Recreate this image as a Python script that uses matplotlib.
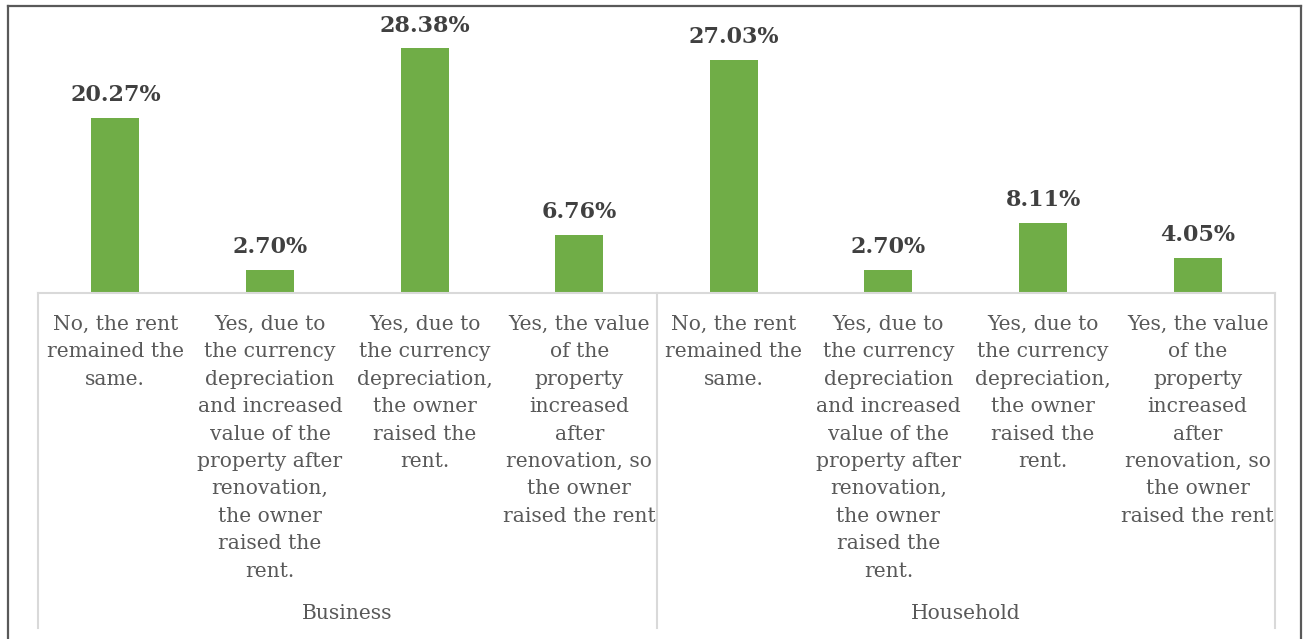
import matplotlib.pyplot as plt
from matplotlib.lines import Line2D

# Data
groups = ['Business', 'Household']
answers = [
    'No, the rent\nremained the\nsame.',
    'Yes, due to\nthe currency\ndepreciation\nand increased\nvalue of the\nproperty after\nrenovation,\nthe owner\nraised the\nrent.',
    'Yes, due to\nthe currency\ndepreciation,\nthe owner\nraised the\nrent.',
    'Yes, the value\nof the\nproperty\nincreased\nafter\nrenovation, so\nthe owner\nraised the rent',
]
business_pct = [20.27, 2.70, 28.38, 6.76]
household_pct = [27.03, 2.70, 8.11, 4.05]

values = business_pct + household_pct
labels = answers + answers

W, H = 1306, 639
fig = plt.figure(figsize=(W / 100, H / 100), dpi=100)

# axes in pixel coordinates
x0, x1 = 38, 1275
ybase, ytop = 293, 5
ax = fig.add_axes([x0 / W, 1 - ybase / H, (x1 - x0) / W, (ybase - ytop) / H])
ax_h = ybase - ytop

xs = list(range(len(values)))
ax.bar(xs, values, width=0.31, color='#70AD47')
ax.set_xlim(-0.5, len(values) - 0.5)
ax.set_ylim(0, ax_h / 8.62)
ax.axis('off')

for x, v in zip(xs, values):
    ax.annotate(f'{v:.2f}%', (x, v), xytext=(0, 8.5), textcoords='offset points',
                ha='center', va='bottom', fontsize=16, fontweight='bold',
                family='DejaVu Serif', color='#404040')

# category labels
tr = ax.get_xaxis_transform()
for x, lab in zip(xs, labels):
    ax.text(x, -(315 - ybase) / ax_h, lab, transform=tr, ha='center', va='top',
            fontsize=14.6, family='DejaVu Serif', color='#595959', linespacing=1.56)

n = len(answers)
for g, name in enumerate(groups):
    ax.text(g * n + (n - 1) / 2, -(604 - ybase) / ax_h, name, transform=tr,
            ha='center', va='top', fontsize=14.6, family='DejaVu Serif', color='#595959')

# category axis lines
ybot = -(628 - ybase) / ax_h
sep_style = dict(color='#D9D9D9', linewidth=1.5, transform=tr, clip_on=False)
ax.add_line(Line2D([-0.5, len(values) - 0.5], [0, 0], **sep_style))
for b in [-0.5, n - 0.5, len(values) - 0.5]:
    ax.add_line(Line2D([b, b], [0, ybot], **sep_style))

# outer frame
frame = dict(color='#595959', linewidth=1.6, transform=fig.transFigure)
fig.add_artist(Line2D([8 / W, 8 / W], [0, 1 - 6 / H], **frame))
fig.add_artist(Line2D([8 / W, 1301 / W], [1 - 6 / H, 1 - 6 / H], **frame))
fig.add_artist(Line2D([1301 / W, 1301 / W], [0, 1 - 6 / H], **frame))

fig.savefig('out.png', dpi=100, facecolor='white')
